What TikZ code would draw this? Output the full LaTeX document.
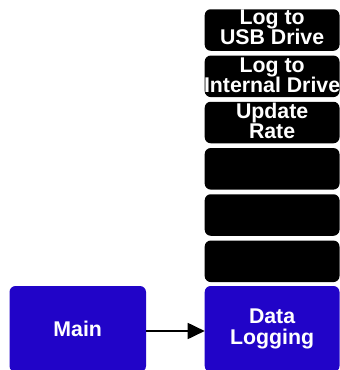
\documentclass[tikz,border=0pt]{standalone}
\usepackage{fontspec}
\setmainfont{Liberation Sans}
\usetikzlibrary{arrows.meta}
\definecolor{boxblue}{RGB}{33,4,200}
\tikzset{
  blk/.style={fill=black, rounded corners=6pt, minimum width=134.8pt, minimum height=41.5pt, inner sep=0pt, outer sep=0pt},
  bluebox/.style={fill=boxblue, rounded corners=6pt, minimum height=86pt, inner sep=0pt, outer sep=0pt},
  lbl/.style={text=white, align=center, inner sep=0pt, font=\fontsize{21.3}{20.3}\selectfont\bfseries},
  arr/.style={line width=1.8pt, -{Triangle[length=17pt,width=16pt]}}
}
\begin{document}
\begin{tikzpicture}[x=1pt,y=-1pt]
\useasboundingbox (0,0) rectangle (340,370);
\clip (0,0) rectangle (340,370);
\node[blk] (b1) at (272.1,30) {};
\node[blk] (b2) at (272.1,76.3) {};
\node[blk] (b3) at (272.1,122.5) {};
\node[blk] (b4) at (272.1,168.8) {};
\node[blk] (b5) at (272.1,215) {};
\node[blk] (b6) at (272.1,261.3) {};
\node[lbl] (t1) at ([yshift=2.5pt]b1.center) {Log to\\USB Drive};
\node[lbl] (t2) at ([yshift=1pt]b2.center) {Log to\\Internal Drive};
\node[lbl] (t3) at ([yshift=1.7pt]b3.center) {Update\\Rate};
\node[bluebox, minimum width=136.5pt] (main) at (77.75,329) {};
\node[bluebox, minimum width=134.8pt] (dl) at (272.1,329) {};
\node[lbl] (tm) at ([yshift=0.3pt]main.center) {Main};
\node[lbl, font=\fontsize{21.3}{21.5}\selectfont\bfseries] (td) at (dl.center) {Data\\Logging};
\draw[arr] ([yshift=-2pt]main.east) -- ([yshift=-2pt]dl.west);
\end{tikzpicture}
\end{document}
